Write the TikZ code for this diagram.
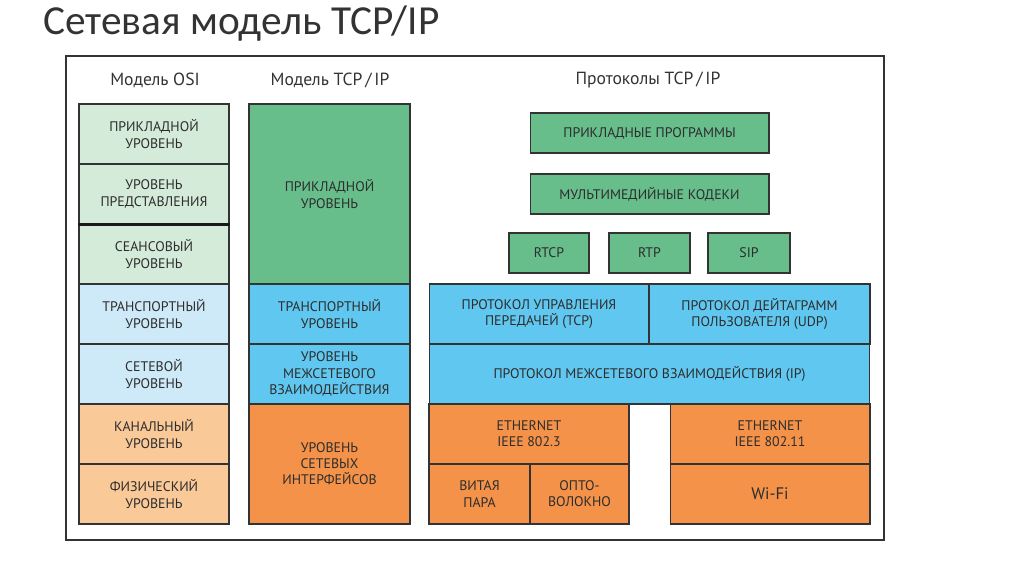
\documentclass[tikz,border=0pt]{standalone}
\usepackage{fontspec}
\setmainfont{PT Sans}
\newfontfamily\titlefont{Carlito}
\usetikzlibrary{positioning}

\definecolor{osigreen}{RGB}{212,235,217}
\definecolor{appgreen}{RGB}{103,190,139}
\definecolor{osiblue}{RGB}{206,233,248}
\definecolor{netblue}{RGB}{96,200,240}
\definecolor{osiorange}{RGB}{250,201,152}
\definecolor{linkorange}{RGB}{243,146,72}
\definecolor{inktext}{RGB}{45,45,45}

\begin{document}
\begin{tikzpicture}[x=0.02cm,y=-0.02cm,
  cell/.style={draw=black!80,line width=0.6pt,align=center,inner sep=0pt,
    text=inktext,font=\fontsize{7.9}{9.2}\selectfont},
  osirow/.style={cell,minimum width=3cm,minimum height=1.2cm},
  tcprow/.style={cell,minimum width=3.22cm},
  header/.style={text=black!80,font=\fontsize{10}{11}\selectfont}]
  \useasboundingbox (0,0) rectangle (1024,574);
  \node[anchor=base west,text=black!80,font=\titlefont\fontsize{23.5}{26}\selectfont,inner sep=0pt]
    (title) at (43,35) {Сетевая модель TCP/IP};
  \draw[black!80,line width=0.8pt] (66,56) rectangle (884,540);
  \node[header] (hosi) at (155,80) {Модель OSI};
  \node[header] (htcp) at (330,80) {Модель TCP\,/\,IP};
  \node[header] (hproto) at (648,80) {Протоколы TCP\,/\,IP};
  % OSI model
  \node[osirow,fill=osigreen] (app) at (154,134) {ПРИКЛАДНОЙ\\УРОВЕНЬ};
  \node[osirow,fill=osigreen] (pres) at (154,194) {УРОВЕНЬ\\ПРЕДСТАВЛЕНИЯ};
  \node[osirow,fill=osigreen] (sess) at (154,254) {СЕАНСОВЫЙ\\УРОВЕНЬ};
  \node[osirow,fill=osiblue] (trans) at (154,314) {ТРАНСПОРТНЫЙ\\УРОВЕНЬ};
  \node[osirow,fill=osiblue] (net) at (154,374) {СЕТЕВОЙ\\УРОВЕНЬ};
  \node[osirow,fill=osiorange] (link) at (154,434) {КАНАЛЬНЫЙ\\УРОВЕНЬ};
  \node[osirow,fill=osiorange] (phys) at (154,494) {ФИЗИЧЕСКИЙ\\УРОВЕНЬ};
  \draw[line width=2pt,black!90] (pres.south west) -- (pres.south east);
  % TCP/IP model
  \node[tcprow,fill=appgreen,minimum height=3.6cm] (tapp) at (329.5,194) {ПРИКЛАДНОЙ\\УРОВЕНЬ};
  \node[tcprow,fill=netblue,minimum height=1.2cm] (ttrans) at (329.5,314) {ТРАНСПОРТНЫЙ\\УРОВЕНЬ};
  \node[tcprow,fill=netblue,minimum height=1.2cm] (tinet) at (329.5,374) {УРОВЕНЬ\\МЕЖСЕТЕВОГО\\ВЗАИМОДЕЙСТВИЯ};
  \node[tcprow,fill=linkorange,minimum height=2.4cm] (tiface) at (329.5,464) {УРОВЕНЬ\\СЕТЕВЫХ\\ИНТЕРФЕЙСОВ};
  % protocols
  \node[cell,fill=appgreen,minimum width=4.78cm,minimum height=0.8cm] (progs) at (649.5,133) {ПРИКЛАДНЫЕ ПРОГРАММЫ};
  \node[cell,fill=appgreen,minimum width=4.78cm,minimum height=0.8cm] (codecs) at (649.5,194) {МУЛЬТИМЕДИЙНЫЕ КОДЕКИ};
  \node[cell,fill=appgreen,minimum width=1.6cm,minimum height=0.8cm] (rtcp) at (549,253) {RTCP};
  \node[cell,fill=appgreen,minimum width=1.62cm,minimum height=0.8cm] (rtp) at (649.5,253) {RTP};
  \node[cell,fill=appgreen,minimum width=1.64cm,minimum height=0.8cm] (sip) at (749,253) {SIP};
  \node[cell,fill=netblue,minimum width=4.4cm,minimum height=1.2cm] (tcp) at (539,314) {ПРОТОКОЛ УПРАВЛЕНИЯ\\ПЕРЕДАЧЕЙ (TCP)};
  \node[cell,fill=netblue,minimum width=4.42cm,minimum height=1.2cm] (udp) at (759.5,314) {ПРОТОКОЛ ДЕЙТАГРАММ\\ПОЛЬЗОВАТЕЛЯ (UDP)};
  \node[cell,fill=netblue,minimum width=8.82cm,minimum height=1.2cm] (ip) at (649.5,374) {ПРОТОКОЛ МЕЖСЕТЕВОГО ВЗАИМОДЕЙСТВИЯ (IP)};
  \node[cell,fill=linkorange,minimum width=4cm,minimum height=1.2cm] (eth) at (529,434) {ETHERNET\\IEEE 802.3};
  \node[cell,fill=linkorange,minimum width=2.02cm,minimum height=1.2cm] (pair) at (479.5,494) {ВИТАЯ\\ПАРА};
  \node[cell,fill=linkorange,minimum width=1.98cm,minimum height=1.2cm] (fiber) at (579.5,494) {ОПТО-\\ВОЛОКНО};
  \node[cell,fill=linkorange,minimum width=4cm,minimum height=1.2cm] (ethw) at (770,434) {ETHERNET\\IEEE 802.11};
  \node[cell,fill=linkorange,minimum width=4cm,minimum height=1.2cm,font=\fontsize{9.5}{10}\selectfont] (wifi) at (770,494) {Wi-Fi};
\end{tikzpicture}
\end{document}
